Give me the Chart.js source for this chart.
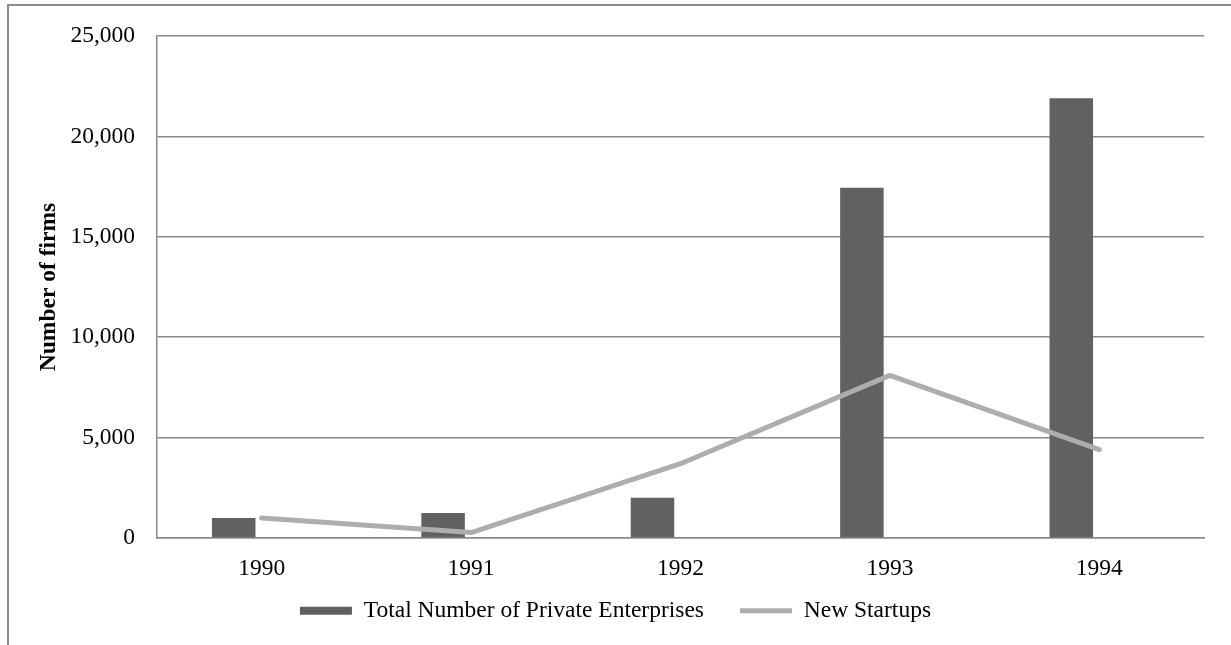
<!DOCTYPE html>
<html>
<head>
<meta charset="utf-8">
<script src="https://cdn.jsdelivr.net/npm/chart.js@4/dist/chart.umd.min.js"></script>
<style>
  html, body { margin: 0; padding: 0; background: #fff; overflow: hidden; }
  #wrap { position: relative; width: 1231px; height: 645px; }
  #frame { position: absolute; left: 7px; top: 4px; width: 1300px; height: 700px;
           border-left: 2px solid #8c8c8c; border-top: 2px solid #8c8c8c; pointer-events: none; }
  canvas { position: absolute; left: 0; top: 0; }
</style>
</head>
<body>
<div id="wrap">
  <canvas id="firmChart" width="1231" height="645"></canvas>
  <div id="frame"></div>
</div>
<script>
'use strict';

// values
const years = ['1990', '1991', '1992', '1993', '1994'];
const totalFirms = [1000, 1240, 2000, 17450, 21900];
const newStartups = [1000, 270, 3700, 8100, 4400];
const yTicks = [0, 5000, 10000, 15000, 20000, 25000];

const serif = 'Liberation Serif, Times New Roman, serif';
const gridGray = '#8a8a8a';
const fontSize = 23.5;

// pull the legend up so it sits just under the year labels
const legendNudge = {
  id: 'legendNudge',
  afterLayout(chart) {
    const lg = chart.legend;
    const top = chart.scales.x.top + 25;
    lg.bottom = top + lg.height;
    lg.top = top;
  },
};

let ctx = document.getElementById('firmChart');
let chartOptions = {
  type: 'bar',
  data: {
    labels: years,
    datasets: [{
      label: 'Total Number of Private Enterprises',
      data: totalFirms,
      backgroundColor: '#616161',
      borderWidth: 0,
      pointStyle: 'rect',
      categoryPercentage: 0.535,
      barPercentage: 0.777,
      order: 1,
    }, {
      // empty second column slot, as in the original clustered layout
      label: '',
      data: years.map(() => null),
      backgroundColor: 'rgba(0,0,0,0)',
      categoryPercentage: 0.535,
      barPercentage: 0.777,
      order: 1,
    }, {
      type: 'line',
      label: 'New Startups',
      data: newStartups,
      borderColor: '#adadad',
      backgroundColor: '#adadad',
      borderWidth: 5,
      borderCapStyle: 'round',
      borderJoinStyle: 'round',
      pointRadius: 0,
      pointStyle: 'line',
      tension: 0,
      order: 0,
    }],
  },
  options: {
    responsive: false,
    animation: false,
    devicePixelRatio: 1,
    layout: {
      padding: { left: 27, right: 27, top: 36, bottom: -24.7 },
    },
    scales: {
      x: {
        offset: true,
        grid: { display: false, drawTicks: false },
        border: { display: true, color: gridGray, width: 1.5 },
        ticks: {
          color: '#000',
          font: { family: serif, size: fontSize },
          padding: 17,
          maxRotation: 0,
        },
      },
      y: {
        min: 0,
        max: 25000,
        afterBuildTicks: (scale) => {
          scale.ticks = yTicks.map((v) => ({ value: v }));
        },
        afterFit: (scale) => {
          scale.width = 130;
        },
        grid: { color: gridGray, lineWidth: 1.5, drawTicks: false },
        border: { display: true, color: gridGray, width: 1.5 },
        ticks: {
          color: '#000',
          font: { family: serif, size: fontSize },
          padding: 22,
          callback: (v) => Number(v).toLocaleString('en-US'),
        },
        title: {
          display: true,
          text: 'Number of firms',
          color: '#000',
          font: { family: serif, size: fontSize, weight: 'bold' },
          padding: { top: 8, bottom: 0 },
        },
      },
    },
    plugins: {
      tooltip: { enabled: false },
      legend: {
        position: 'bottom',
        labels: {
          usePointStyle: true,
          pointStyleWidth: 52,
          boxHeight: 8,
          padding: 36,
          color: '#000',
          font: { family: serif, size: fontSize },
          filter: (item) => item.text !== '',
          sort: (a, b) => a.datasetIndex - b.datasetIndex,
        },
      },
    },
  },
  plugins: [legendNudge],
};
let myChart = new Chart(ctx, chartOptions);
</script>
</body>
</html>
